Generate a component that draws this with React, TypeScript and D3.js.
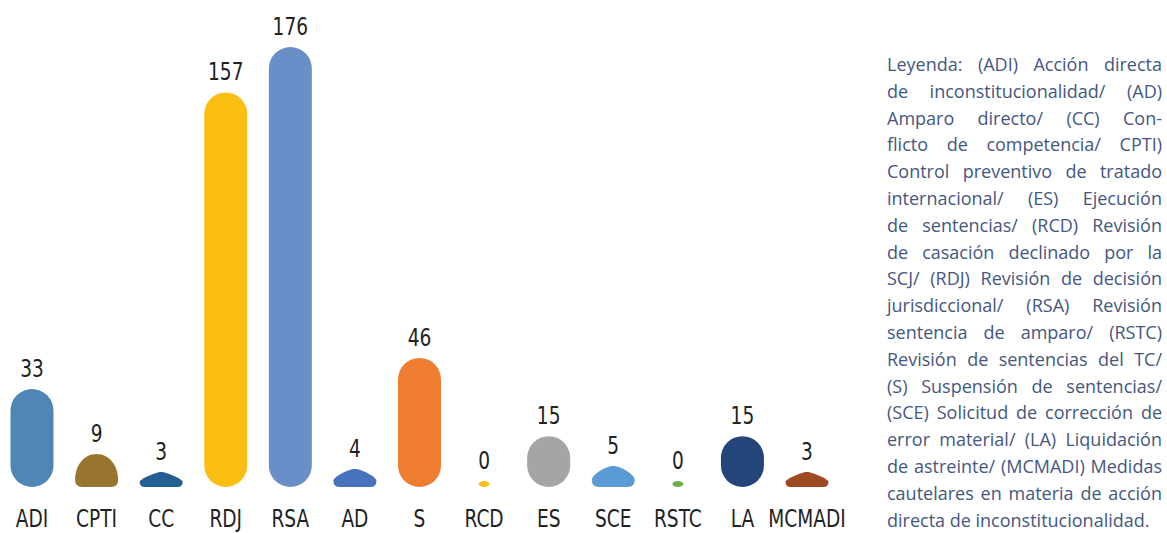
import React, { useMemo } from 'react';
import * as d3 from 'd3';

const categories = ['ADI', 'CPTI', 'CC', 'RDJ', 'RSA', 'AD', 'S', 'RCD', 'ES', 'SCE', 'RSTC', 'LA', 'MCMADI'];
const values = [33, 9, 3, 157, 176, 4, 46, 0, 15, 5, 0, 15, 3];
const colors = ['#4f86b5', '#98752e', '#245f93', '#fbbf14', '#6a8fc8', '#4672be', '#ee7d31', '#fbbf14', '#a5a5a5', '#5b9bd5', '#70ad47', '#23457a', '#9e4a22'];

const legendLines = [
  'Leyenda: (ADI) Acción directa',
  'de inconstitucionalidad/ (AD)',
  'Amparo directo/ (CC) Con-',
  'flicto de competencia/ CPTI)',
  'Control preventivo de tratado',
  'internacional/ (ES) Ejecución',
  'de sentencias/ (RCD) Revisión',
  'de casación declinado por la',
  'SCJ/ (RDJ) Revisión de decisión',
  'jurisdiccional/ (RSA) Revisión',
  'sentencia de amparo/ (RSTC)',
  'Revisión de sentencias del TC/',
  '(S) Suspensión de sentencias/',
  '(SCE) Solicitud de corrección de',
  'error material/ (LA) Liquidación',
  'de astreinte/ (MCMADI) Medidas',
  'cautelares en materia de acción',
  'directa de inconstitucionalidad.',
];

const W = 1167;
const H = 533;
const baseline = 487;
const barWidth = 43;
const numFont = '"Liberation Sans Narrow", "DejaVu Sans Condensed", sans-serif';
const legendFont = '"Open Sans", "Noto Sans", sans-serif';
const legendSize = 18;
const legendLeft = 887;
const legendRight = 1162;

// rounded cap added on top of the scaled height, smaller for tiny bars
const capOf = (yv: number) => Math.min(19, 6 + yv * 0.25);

function barPath(cx: number, w: number, h: number) {
  const x0 = cx - w / 2, x1 = cx + w / 2, top = baseline - h;
  if (h >= w * 0.8) {
    const rx = w / 2, ry = Math.min(w / 2, h / 2);
    return `M${x0},${top + ry} A${rx},${ry} 0 0 1 ${x1},${top + ry} L${x1},${baseline - ry} A${rx},${ry} 0 0 1 ${x0},${baseline - ry} Z`;
  }
  const r = Math.min(h * 0.35, 7);
  const s = Math.max(0.15, Math.min(0.6, (h / w) * 0.75));
  const yr = baseline - r;
  const c1 = yr - (h - r) * s;
  return `M${x0 + r},${baseline} L${x1 - r},${baseline} Q${x1},${baseline} ${x1},${yr} ` +
    `C${x1},${c1} ${cx + (w / 2) * s},${top} ${cx},${top} ` +
    `C${cx - (w / 2) * s},${top} ${x0},${c1} ${x0},${yr} Q${x0},${baseline} ${x0 + r},${baseline} Z`;
}

export default function App() {
  const x = d3.scalePoint<string>().domain(categories).range([-0.3, 839.3]).padding(0.5);
  const y = d3.scaleLinear().domain([0, 176]).range([0, 421]);

  const legend = useMemo(() => {
    const ctx = document.createElement('canvas').getContext('2d')!;
    ctx.font = `${legendSize}px ${legendFont}`;
    const space = ctx.measureText(' ').width;
    const avail = legendRight - legendLeft;
    return legendLines.map((line, i) => {
      const words = line.split(' ');
      const widths = words.map(w => ctx.measureText(w).width);
      const total = d3.sum(widths);
      const last = i === legendLines.length - 1;
      const gap = last || words.length < 2 ? space : Math.max(2, (avail - total) / (words.length - 1));
      let cur = legendLeft;
      return words.map((w, j) => {
        const pos = cur;
        cur += widths[j] + gap;
        return { text: w, x: pos };
      });
    });
  }, []);

  return (
    <svg width={W} height={H} style={{ position: 'absolute', left: 0, top: 0, background: '#fff' }}>
      {categories.map((c, i) => {
        const v = values[i];
        const yv = y(v);
        const h = yv + capOf(yv);
        const cx = x(c)!;
        const w = v === 0 ? 11 : barWidth;
        return (
          <g key={c}>
            {v === 0
              ? <ellipse cx={cx} cy={baseline - h / 2} rx={w / 2} ry={h / 2} fill={colors[i]} />
              : <path d={barPath(cx, w, h)} fill={colors[i]} />}
            <text transform={`translate(${cx},${baseline - h - 12}) scale(0.86,1)`} textAnchor="middle"
              fontFamily={numFont} fontSize={24} fill="#222">{v}</text>
            <text transform={`translate(${cx},${527}) scale(0.86,1)`} textAnchor="middle"
              fontFamily={numFont} fontSize={24} fill="#222">{c}</text>
          </g>
        );
      })}
      <g fontFamily={legendFont} fontSize={legendSize} fill="#45577f">
        {legend.map((words, i) => words.map((w, j) => (
          <text key={`${i}-${j}`} x={w.x} y={71 + i * 26.8}>{w.text}</text>
        )))}
      </g>
    </svg>
  );
}
